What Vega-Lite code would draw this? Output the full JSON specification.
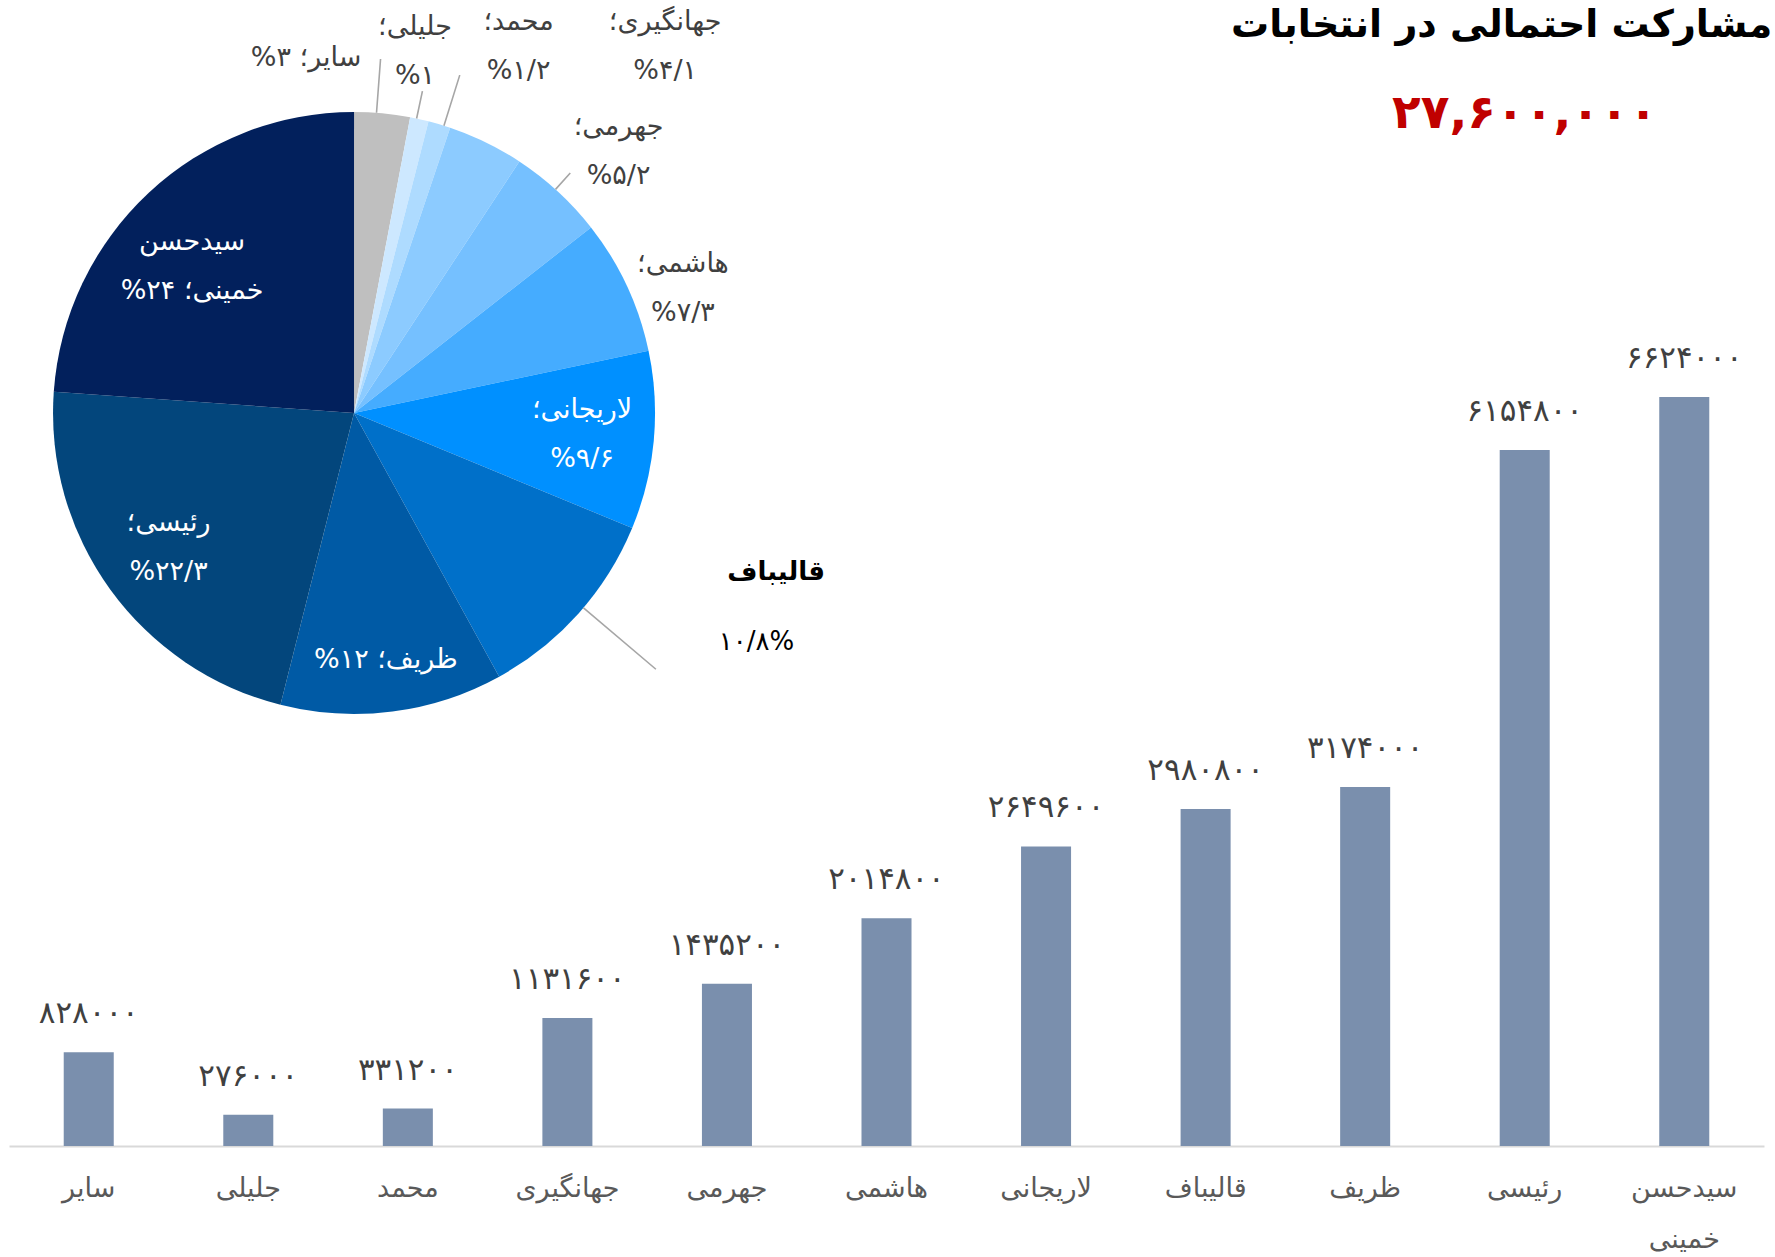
{
  "$schema": "https://vega.github.io/schema/vega-lite/v6.json",
  "width": 1755,
  "height": 1046,
  "autosize": {"type": "none"},
  "padding": {"left": 9, "top": 100, "right": 11, "bottom": 111},
  "background": "#ffffff",
  "config": {
    "view": {"stroke": null},
    "font": "DejaVu Sans",
    "locale": {
      "number": {
        "decimal": "/",
        "thousands": ",",
        "grouping": [3],
        "currency": ["", ""],
        "numerals": ["۰", "۱", "۲", "۳", "۴", "۵", "۶", "۷", "۸", "۹"]
      }
    }
  },
  "datasets": {
    "votes": [
      {"name": "سایر", "votes": 828000, "pct": 3},
      {"name": "جلیلی", "votes": 276000, "pct": 1},
      {"name": "محمد", "votes": 331200, "pct": 1.2},
      {"name": "جهانگیری", "votes": 1131600, "pct": 4.1},
      {"name": "جهرمی", "votes": 1435200, "pct": 5.2},
      {"name": "هاشمی", "votes": 2014800, "pct": 7.3},
      {"name": "لاریجانی", "votes": 2649600, "pct": 9.6},
      {"name": "قالیباف", "votes": 2980800, "pct": 10.8},
      {"name": "ظریف", "votes": 3174000, "pct": 12},
      {"name": "رئیسی", "votes": 6154800, "pct": 22.3},
      {"name": "سیدحسن خمینی", "votes": 6624000, "pct": 24}
    ],
    "heading": [
      {"title": "مشارکت احتمالی در انتخابات"}
    ]
  },
  "layer": [
    {
      "data": {"name": "votes"},
      "encoding": {
        "x": {
          "field": "name",
          "type": "nominal",
          "sort": null,
          "scale": {"paddingInner": 0.6865, "paddingOuter": 0.343},
          "axis": {
            "title": null,
            "labelAngle": 0,
            "ticks": false,
            "tickSize": 0,
            "domainColor": "#D9D9D9",
            "domainWidth": 2,
            "labelFont": "DejaVu Sans",
            "labelFontSize": 27,
            "labelColor": "#595959",
            "labelBaseline": "top",
            "labelPadding": 29,
            "labelLineHeight": 51,
            "labelExpr": "split(datum.label, ' ')"
          }
        }
      },
      "layer": [
        {
          "mark": {"type": "bar", "color": "#7A8FAD"},
          "encoding": {
            "y": {"field": "votes", "type": "quantitative", "scale": {"domain": [0, 9250000], "nice": false}, "axis": null}
          }
        },
        {
          "mark": {"type": "text", "baseline": "alphabetic", "dy": -29, "fontSize": 31, "color": "#404040", "font": "DejaVu Sans"},
          "encoding": {
            "y": {"field": "votes", "type": "quantitative", "scale": {"domain": [0, 9250000], "nice": false}, "axis": null},
            "text": {"field": "votes", "type": "quantitative", "format": "d"}
          }
        },
        {
          "transform": [{"aggregate": [{"op": "sum", "field": "votes", "as": "total"}]}],
          "mark": {"type": "text", "fontSize": 47, "fontWeight": "bold", "color": "#C00000", "font": "DejaVu Sans"},
          "encoding": {
            "x": {"datum": "رئیسی", "type": "nominal"},
            "y": {"datum": 9130000, "type": "quantitative"},
            "text": {"field": "total", "type": "quantitative", "format": ",d"}
          }
        },
        {
          "data": {"name": "heading"},
          "mark": {"type": "text", "align": "right", "baseline": "alphabetic", "dx": 88, "fontSize": 38, "fontWeight": "bold", "color": "#000000", "font": "DejaVu Sans"},
          "encoding": {
            "x": {"datum": "سیدحسن خمینی", "type": "nominal"},
            "y": {"datum": 9810000, "type": "quantitative"},
            "text": {"field": "title", "type": "nominal"}
          }
        }
      ]
    },
    {
      "data": {"name": "votes"},
      "transform": [
        {"window": [{"op": "row_number", "as": "rank"}]},
        {
          "calculate": "datum.name == 'سیدحسن خمینی' ? 'سیدحسن\\n%' + format(datum.pct, '~g') + ' خمینی؛' : (datum.name == 'ظریف' || datum.name == 'سایر') ? '%' + format(datum.pct, '~g') + ' ' + datum.name + '؛' : datum.name + '؛\\n%' + format(datum.pct, '~g')",
          "as": "plabel"
        },
        {"calculate": "format(datum.pct, '~g') + '%'", "as": "pctRight"}
      ],
      "encoding": {
        "x": {"datum": 0.1966, "type": "quantitative", "scale": {"domain": [0, 1], "nice": false}, "axis": null},
        "y": {"datum": 0.7008, "type": "quantitative", "scale": {"domain": [0, 1], "nice": false}, "axis": null},
        "theta": {"field": "pct", "type": "quantitative", "stack": true},
        "order": {"field": "rank", "type": "quantitative"}
      },
      "layer": [
        {
          "mark": {"type": "arc", "radius": 301},
          "encoding": {
            "color": {
              "field": "name",
              "type": "nominal",
              "legend": null,
              "scale": {
                "domain": ["سایر", "جلیلی", "محمد", "جهانگیری", "جهرمی", "هاشمی", "لاریجانی", "قالیباف", "ظریف", "رئیسی", "سیدحسن خمینی"],
                "range": ["#BFBFBF", "#CDE8FF", "#AEDBFF", "#8CCBFF", "#75C0FF", "#45ACFF", "#0090FF", "#0070C9", "#005AA5", "#03467C", "#02205C"]
              }
            }
          }
        },
        {
          "mark": {"type": "arc", "filled": false, "color": "#A6A6A6", "strokeWidth": 1.6, "padAngle": 1.5, "radius": 355, "radius2": 301, "thetaOffset": -0.019},
          "encoding": {"strokeOpacity": {"condition": {"test": "datum.name == 'سایر'", "value": 1}, "value": 0}}
        },
        {
          "mark": {"type": "arc", "filled": false, "color": "#A6A6A6", "strokeWidth": 1.6, "padAngle": 1.5, "radius": 329, "radius2": 301, "thetaOffset": -0.0094},
          "encoding": {"strokeOpacity": {"condition": {"test": "datum.name == 'جلیلی'", "value": 1}, "value": 0}}
        },
        {
          "mark": {"type": "arc", "filled": false, "color": "#A6A6A6", "strokeWidth": 1.6, "padAngle": 1.5, "radius": 354, "radius2": 301, "thetaOffset": 0.0157},
          "encoding": {"strokeOpacity": {"condition": {"test": "datum.name == 'محمد'", "value": 1}, "value": 0}}
        },
        {
          "mark": {"type": "arc", "filled": false, "color": "#A6A6A6", "strokeWidth": 1.6, "padAngle": 1.5, "radius": 323, "radius2": 301, "thetaOffset": -0.0105},
          "encoding": {"strokeOpacity": {"condition": {"test": "datum.name == 'جهرمی'", "value": 1}, "value": 0}}
        },
        {
          "mark": {"type": "arc", "filled": false, "color": "#A6A6A6", "strokeWidth": 1.6, "padAngle": 1.5, "radius": 396, "radius2": 301, "thetaOffset": -0.026},
          "encoding": {"strokeOpacity": {"condition": {"test": "datum.name == 'قالیباف'", "value": 1}, "value": 0}}
        },
        {
          "mark": {"type": "text", "radius": 219, "thetaOffset": -0.082, "dy": -24, "lineBreak": "\n", "lineHeight": 49, "fontSize": 27, "color": "#FFFFFF"},
          "encoding": {
            "text": {"condition": {"test": "datum.name == 'سیدحسن خمینی'", "field": "plabel", "type": "nominal"}, "value": ""}
          }
        },
        {
          "mark": {"type": "text", "radius": 229, "dy": -24, "lineBreak": "\n", "lineHeight": 49, "fontSize": 27, "color": "#FFFFFF"},
          "encoding": {
            "text": {"condition": {"test": "datum.name == 'رئیسی' || datum.name == 'لاریجانی'", "field": "plabel", "type": "nominal"}, "value": ""}
          }
        },
        {
          "mark": {"type": "text", "radius": 249, "fontSize": 27, "color": "#FFFFFF"},
          "encoding": {
            "text": {"condition": {"test": "datum.name == 'ظریف'", "field": "plabel", "type": "nominal"}, "value": ""}
          }
        },
        {
          "mark": {"type": "text", "radius": 358, "thetaOffset": -0.228, "fontSize": 27, "color": "#404040"},
          "encoding": {"text": {"condition": {"test": "datum.name == 'سایر'", "field": "plabel", "type": "nominal"}, "value": ""}}
        },
        {
          "mark": {"type": "text", "radius": 367, "thetaOffset": -0.052, "dy": -24, "lineBreak": "\n", "lineHeight": 49, "fontSize": 27, "color": "#404040"},
          "encoding": {"text": {"condition": {"test": "datum.name == 'جلیلی'", "field": "plabel", "type": "nominal"}, "value": ""}}
        },
        {
          "mark": {"type": "text", "radius": 402, "thetaOffset": 0.134, "dy": -24, "lineBreak": "\n", "lineHeight": 49, "fontSize": 27, "color": "#404040"},
          "encoding": {"text": {"condition": {"test": "datum.name == 'محمد'", "field": "plabel", "type": "nominal"}, "value": ""}}
        },
        {
          "mark": {"type": "text", "radius": 481, "thetaOffset": 0.25, "dy": -24, "lineBreak": "\n", "lineHeight": 49, "fontSize": 27, "color": "#404040"},
          "encoding": {"text": {"condition": {"test": "datum.name == 'جهانگیری'", "field": "plabel", "type": "nominal"}, "value": ""}}
        },
        {
          "mark": {"type": "text", "radius": 372, "thetaOffset": 0.047, "dy": -24, "lineBreak": "\n", "lineHeight": 49, "fontSize": 27, "color": "#404040"},
          "encoding": {"text": {"condition": {"test": "datum.name == 'جهرمی'", "field": "plabel", "type": "nominal"}, "value": ""}}
        },
        {
          "mark": {"type": "text", "radius": 352, "thetaOffset": 0.072, "dy": -24, "lineBreak": "\n", "lineHeight": 49, "fontSize": 27, "color": "#404040"},
          "encoding": {"text": {"condition": {"test": "datum.name == 'هاشمی'", "field": "plabel", "type": "nominal"}, "value": ""}}
        },
        {
          "mark": {"type": "text", "radius": 451, "thetaOffset": -0.37, "fontSize": 26, "fontWeight": "bold", "color": "#000000"},
          "encoding": {"text": {"condition": {"test": "datum.name == 'قالیباف'", "field": "name", "type": "nominal"}, "value": ""}}
        },
        {
          "mark": {"type": "text", "radius": 463, "thetaOffset": -0.213, "fontSize": 26, "color": "#000000"},
          "encoding": {"text": {"condition": {"test": "datum.name == 'قالیباف'", "field": "pctRight", "type": "nominal"}, "value": ""}}
        }
      ]
    }
  ],
  "resolve": {"scale": {"x": "independent", "y": "independent"}}
}
